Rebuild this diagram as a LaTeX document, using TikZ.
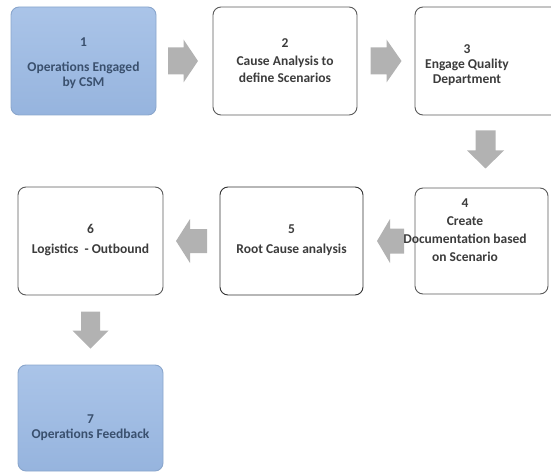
\documentclass[tikz,border=0pt]{standalone}
\usepackage{fontspec}
\setmainfont{Carlito}
\usetikzlibrary{calc}

\definecolor{boxline}{HTML}{5A5A5A}
\definecolor{boxtext}{HTML}{3C3C3C}
\definecolor{bluetop}{HTML}{AAC4E8}
\definecolor{bluebot}{HTML}{96B4DE}
\definecolor{blueline}{HTML}{8AA6CC}
\definecolor{bluetext}{HTML}{3A506E}
\definecolor{arrowgrey}{HTML}{B2B2B2}

\tikzset{
  stepbox/.style={draw=boxline, line width=0.9pt, rounded corners=8pt,
    fill=white, minimum width=145pt, minimum height=108pt, inner sep=0pt},
  bluebox/.style={stepbox, draw=blueline, top color=bluetop, bottom color=bluebot},
  steptext/.style={align=center, text=boxtext, inner sep=0pt,
    font=\fontsize{13.5}{15}\selectfont\bfseries},
  bluetext/.style={steptext, text=bluetext},
  % block arrow pointing along +x, centred on its origin
  % #1 half length, #2 half shaft width, #3 half head width, #4 head length
  pics/blockarrow/.style n args={4}{code={
    \fill[arrowgrey] (-#1,-#2) -- (#1-#4,-#2) -- (#1-#4,-#3) -- (#1,0)
      -- (#1-#4,#3) -- (#1-#4,#2) -- (-#1,#2) -- cycle;
  }}
}

\begin{document}
\begin{tikzpicture}[x=1pt,y=-1pt]
  \useasboundingbox (0,0) rectangle (551,473);
  \begin{scope}
    \clip (0,0) rectangle (551,473);

    % process steps
    \node[bluebox] (b1) at (83.5,61) {};
    \node[stepbox, minimum width=144pt] (b2) at (285,61) {};
    \node[stepbox] (b3) at (487.5,61) {};
    \node[stepbox, minimum width=133pt, minimum height=106pt] (b4) at (481.5,241) {};
    \node[stepbox, draw=black!80, minimum width=143pt] (b5) at (291.5,241) {};
    \node[stepbox] (b6) at (90.5,241) {};
    \node[bluebox, minimum height=106pt] (b7) at (90.5,418) {};

    % step captions
    \node[bluetext] (t1) at (83.5,63) {1\\[10pt]Operations Engaged\\by CSM};
    \node[steptext] (t2) at (285,60.5) {2\\[3pt]Cause Analysis to\\[2.5pt]define Scenarios};
    \node[steptext] (t3) at (467,65) {3\\Engage Quality\\Department};
    \node[steptext] (t4) at (465,230.5) {4\\[3pt]Create\\[3pt]Documentation based\\[3pt]on Scenario};
    \node[steptext] (t5) at (291.5,240) {5\\[4.5pt]Root Cause analysis};
    \node[steptext] (t6) at (90.5,240) {6\\[4.5pt]Logistics\ \ - Outbound};
    \node[bluetext] (t7) at (90.5,428) {7\\Operations Feedback};

    % block arrows between the steps
    \coordinate (a12) at ($(b1.east)!0.5!(b2.west)+(-1.5,0)$);
    \coordinate (a23) at ($(b2.east)!0.5!(b3.west)$);
    \coordinate (a34) at ($(b3.south)!0.5!(b4.north)+(1,-2)$);
    \coordinate (a45) at ($(b4.west)!0.5!(b5.east)+(1.5,0)$);
    \coordinate (a56) at ($(b5.west)!0.5!(b6.east)$);
    \coordinate (a67) at ($(b6.south)!0.5!(b7.north)$);

    \pic at (a12) {blockarrow={15}{13.5}{21.5}{14.5}};
    \pic at (a23) {blockarrow={15.5}{13.5}{21.5}{15}};
    \pic[rotate=-90] at (a34) {blockarrow={19}{10}{18.5}{18}};
    \pic[rotate=180] at (a45) {blockarrow={13.5}{12.5}{22}{13}};
    \pic[rotate=180] at (a56) {blockarrow={15.5}{12}{22}{14}};
    \pic[rotate=-90] at (a67) {blockarrow={18.5}{9.5}{18}{18}};
  \end{scope}
\end{tikzpicture}
\end{document}
